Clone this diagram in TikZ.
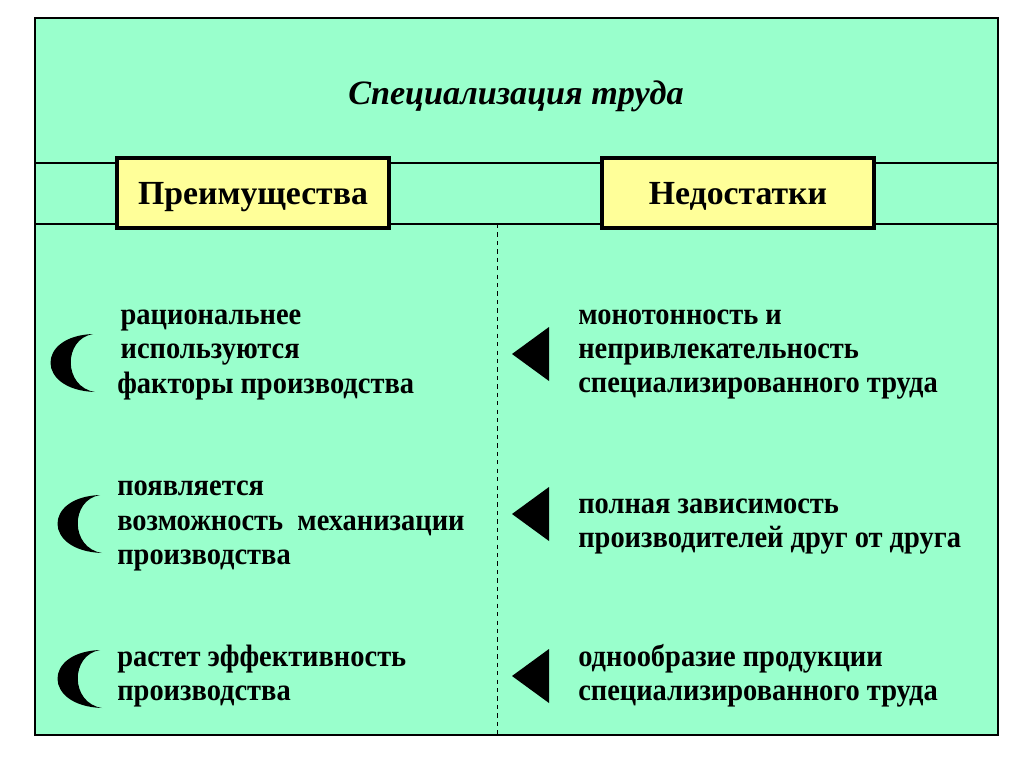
\documentclass[tikz,border=0pt]{standalone}
\usepackage{fontspec}
\setmainfont{Liberation Serif}
\newfontfamily\itemfont[FakeStretch=0.92]{Liberation Serif}
\usetikzlibrary{positioning}

\begin{document}
\begin{tikzpicture}[x=0.025cm,y=-0.025cm]
  \definecolor{mint}{HTML}{99FFCC}
  \definecolor{pale}{HTML}{FFFF99}
  \tikzset{
    head/.style={draw, line width=2.8pt, fill=pale, minimum width=6.8cm,
      minimum height=1.75cm, text depth=0pt, font=\bfseries\fontsize{24}{28}\selectfont},
    item/.style={anchor=west, align=left, inner sep=0pt,
      font=\itemfont\bfseries\fontsize{22}{24.2}\selectfont},
    moon/.pic={\fill (0,-29) .. controls (-57,-27) and (-57,27) .. (2,29)
      .. controls (-30,24) and (-30,-24) .. cycle;},
    wedge/.pic={\fill (0,0) -- (37,-27) -- (37,27) -- cycle;}
  }
  \useasboundingbox (0,0) rectangle (1024,767);
  \fill[white] (0,0) rectangle (1024,767);
  % frame and bands
  \draw[line width=2.1pt, fill=mint] (35,18) rectangle (998,735);
  \draw[line width=2.1pt] (35,163) -- (998,163) (35,224) -- (998,224);
  \draw[dashed, line width=0.7pt] (497,224) -- (497,735);
  \node[font=\bfseries\itshape\fontsize{24.3}{28}\selectfont] (title) at (516,96) {Специализация труда};
  \node[head] (plus) at (253,193) {Преимущества};
  \node[head] (minus) at (738,193) {Недостатки};
  % advantages
  \pic at (93,363) {moon};
  \pic at (100,524) {moon};
  \pic at (100,679) {moon};
  \node[item] (adv1) at (117,355) {\hspace*{6\pgflinewidth}рациональнее\\\hspace*{6\pgflinewidth}используются\\факторы производства};
  \node[item] (adv2) at (117,526) {появляется\\возможность\ \ механизации\\производства};
  \node[item] (adv3) at (117,676) {растет эффективность\\производства};
  % disadvantages
  \pic at (512,354) {wedge};
  \pic at (512,514) {wedge};
  \pic at (512,676) {wedge};
  \node[item] (dis1) at (578,355) {монотонность и\\непривлекательность\\специализированного труда};
  \node[item] (dis2) at (578,527) {полная зависимость\\производителей друг от друга};
  \node[item] (dis3) at (578,676) {однообразие продукции\\специализированного труда};
\end{tikzpicture}
\end{document}
